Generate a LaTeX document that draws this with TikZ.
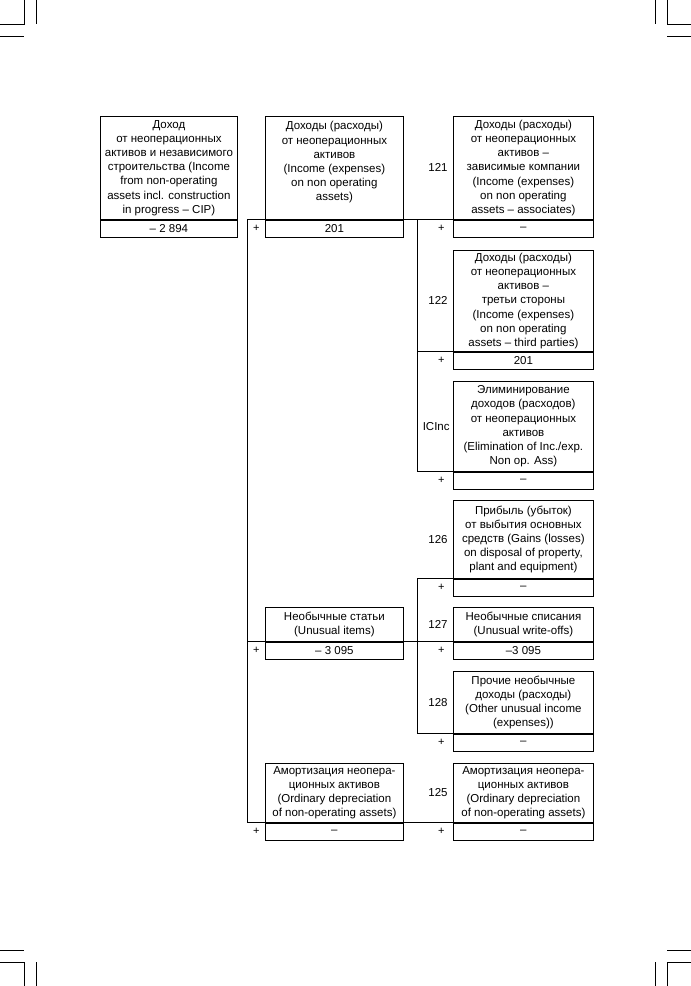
\documentclass[tikz,border=0pt]{standalone}
\usepackage{fontspec}
\setmainfont{Liberation Sans}
\usetikzlibrary{positioning}

\begin{document}
\begin{tikzpicture}[x=1pt, y=-1pt, line width=0.8pt,
  itembox/.style={draw, anchor=north west, inner sep=0pt, align=center,
    minimum width=#1, font=\fontsize{11.5}{14.2}\selectfont},
  valbox/.style={draw, inner sep=0pt, minimum width=#1, minimum height=17pt,
    font=\fontsize{11.5}{14.2}\selectfont},
  codenum/.style={inner sep=0pt, font=\fontsize{11.5}{14.2}\selectfont},
  plussign/.style={inner sep=0pt, font=\fontsize{11}{12}\selectfont},
  crop/.style={line width=0.6pt}]
  \useasboundingbox (0,0) rectangle (691,986);

  % Crop marks
  \draw[crop] (24,0) -- (24,24) -- (0,24);
  \draw[crop] (36,0) -- (36,24);
  \draw[crop] (0,36) -- (24,36);
  \draw[crop] (667,0) -- (667,24) -- (691,24);
  \draw[crop] (655,0) -- (655,24);
  \draw[crop] (667,36) -- (691,36);
  \draw[crop] (24,986) -- (24,962) -- (0,962);
  \draw[crop] (36,986) -- (36,962);
  \draw[crop] (0,950) -- (24,950);
  \draw[crop] (667,986) -- (667,962) -- (691,962);
  \draw[crop] (655,986) -- (655,962);
  \draw[crop] (667,950) -- (691,950);

  % Bus lines
  \coordinate (busM) at (247,0);
  \coordinate (busR) at (417,0);

  % Root
  \node[itembox=137pt, minimum height=103pt] (root) at (100,116)
    {Доход\\от неоперационных\\активов и независимого\\строительства (Income\\from non-operating\\assets incl. construction\\in progress -- CIP)};
  \node[valbox=137pt, below=0pt of root] (rootval) {-- 2 894};

  % Middle column
  \node[itembox=138pt, minimum height=103pt] (inc) at (265,116)
    {Доходы (расходы)\\от неоперационных\\активов\\(Income (expenses)\\on non operating\\assets)\\[-1pt]};
  \node[valbox=138pt, below=0pt of inc] (incval) {201};
  \node[plussign, left=5pt of incval] {+};

  \node[itembox=138pt, minimum height=34pt] (unus) at (265,607)
    {Необычные статьи\\(Unusual items)};
  \node[valbox=138pt, below=0pt of unus] (unusval) {-- 3 095};
  \node[plussign, left=5pt of unusval] {+};

  \node[itembox=138pt, minimum height=59pt] (amort) at (265,763)
    {Амортизация неопера-\\ционных активов\\(Ordinary depreciation\\of non-operating assets)};
  \node[valbox=138pt, below=0pt of amort] (amortval) {--};
  \node[plussign, left=5pt of amortval] {+};

  % Right column
  \node[itembox=140pt, minimum height=103pt] (c121) at (453,116)
    {Доходы (расходы)\\от неоперационных\\активов --\\зависимые компании\\(Income (expenses)\\on non operating\\assets -- associates)};
  \node[valbox=140pt, below=0pt of c121] (c121val) {--};
  \node[codenum, left=5pt of c121] {121};
  \node[plussign, left=8pt of c121val] {+};

  \node[itembox=140pt, minimum height=101pt] (c122) at (453,250)
    {Доходы (расходы)\\от неоперационных\\активов --\\третьи стороны\\(Income (expenses)\\on non operating\\assets -- third parties)};
  \node[valbox=140pt, below=0pt of c122] (c122val) {201};
  \node[codenum, left=5pt of c122] {122};
  \node[plussign, left=8pt of c122val] {+};

  \node[itembox=140pt, minimum height=90pt] (cic) at (453,381)
    {Элиминирование\\доходов (расходов)\\от неоперационных\\активов\\(Elimination of Inc./exp.\\Non op. Ass)};
  \node[valbox=140pt, below=0pt of cic] (cicval) {--};
  \node[codenum, left=3pt of cic] {ICInc};
  \node[plussign, left=8pt of cicval] {+};

  \node[itembox=140pt, minimum height=78pt] (c126) at (453,500)
    {Прибыль (убыток)\\от выбытия основных\\средств (Gains (losses)\\on disposal of property,\\plant and equipment)};
  \node[valbox=140pt, below=0pt of c126] (c126val) {--};
  \node[codenum, left=5pt of c126] {126};
  \node[plussign, left=8pt of c126val] {+};

  \node[itembox=140pt, minimum height=34pt] (c127) at (453,607)
    {Необычные списания\\(Unusual write-offs)};
  \node[valbox=140pt, below=0pt of c127] (c127val) {--3 095};
  \node[codenum, left=5pt of c127] {127};
  \node[plussign, left=8pt of c127val] {+};

  \node[itembox=140pt, minimum height=62pt] (c128) at (453,671)
    {Прочие необычные\\доходы (расходы)\\(Other unusual income\\(expenses))};
  \node[valbox=140pt, below=0pt of c128] (c128val) {--};
  \node[codenum, left=5pt of c128] {128};
  \node[plussign, left=8pt of c128val] {+};

  \node[itembox=140pt, minimum height=59pt] (c125) at (453,763)
    {Амортизация неопера-\\ционных активов\\(Ordinary depreciation\\of non-operating assets)};
  \node[valbox=140pt, below=0pt of c125] (c125val) {--};
  \node[codenum, left=5pt of c125] {125};
  \node[plussign, left=8pt of c125val] {+};

  % Connectors
  \draw (busM |- incval.north) -- (busM |- amortval.north);
  \draw (busM |- incval.north) -- (c121val.north east);
  \draw (busM |- unusval.north) -- (c127val.north east);
  \draw (busM |- amortval.north) -- (c125val.north east);
  \draw (busR |- c121val.north) -- (busR |- cicval.north);
  \draw (busR |- c122val.north) -- (c122val.north east);
  \draw (busR |- cicval.north) -- (cicval.north east);
  \draw (busR |- c126val.north) -- (busR |- c128val.north);
  \draw (busR |- c126val.north) -- (c126val.north east);
  \draw (busR |- c128val.north) -- (c128val.north east);
\end{tikzpicture}
\end{document}
